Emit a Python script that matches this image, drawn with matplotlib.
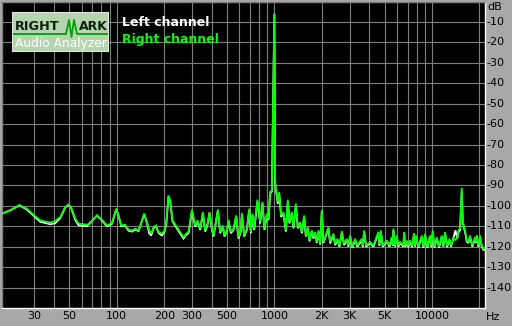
import matplotlib
matplotlib.use("Agg")
import matplotlib.pyplot as plt
import matplotlib.transforms as mtransforms
from matplotlib.patches import Rectangle

# ---------------- data ----------------
freq_hz = [
    18.7, 21.1, 24.1, 26.9, 30.0, 32.7, 37.9, 40.7, 43.8, 47.1,
    49.6, 51.2, 54.6, 57.3, 64.7, 67.9, 74.9, 80.6, 86.7, 93.2,
    99.3, 102.7, 106.8, 113, 118.8, 124.9, 131, 137.5, 144.5, 149.4,
    155.4, 160.7, 165.5, 171.1, 177.3, 184.1, 193.5, 201, 206, 213,
    218.4, 225.8, 240.8, 252.7, 265.2, 275.9, 285.3, 300, 314.8, 325.5,
    338.4, 352, 364.1, 376.5, 387.7, 401.5, 411, 438.2, 453.2, 471.4,
    482.6, 499.7, 511.5, 529.8, 550.3, 572.4, 591.9, 613, 622.2, 643.5,
    669.3, 692.2, 709.6, 726.3, 744.6, 781.3, 812.8, 840.5, 865.5, 896.5,
    917.8, 940.5, 964.1, 1000, 1012, 1026.6, 1052.4, 1072.5, 1104.3, 1142,
    1182.7, 1217.8, 1246.7, 1291, 1321.5, 1368.6, 1409.3, 1457.5, 1494.2, 1545.3,
    1584.2, 1631, 1669.7, 1729.3, 1770, 1814.6, 1860.3, 1904.2, 1952.1, 2000,
    2048, 2203, 2259, 2371, 2431, 2513, 2587, 2679, 2771, 2882,
    2951, 3025, 3128, 3253, 3365, 3588, 3640, 3710, 3821, 4050,
    4250, 4573, 4638, 4736, 4875, 5170, 5370, 5561, 5642, 5692,
    5834, 5981, 6122, 6276, 6586, 6655, 6782, 6923, 7086, 7263,
    7477, 7700, 7812, 7930, 8200, 8616, 8820, 9042, 9350, 9725,
    9913, 10117, 10356, 10725, 11092, 11537, 11813, 12108, 12466, 12894,
    13219, 13670, 14073, 14490, 14705, 15075, 15451, 15680, 15980, 16215,
    16625, 17015, 17443, 18040, 18765, 19040, 19237, 19690, 20186, 20694,
    21182, 21620,
]

right_db = [
    -103.8, -102.2, -99.6, -101.4, -104.7, -107.1, -108.2, -107.4, -105.5, -100.6,
    -99.3, -100.6, -106.3, -108.7, -109.2, -108.7, -104.6, -106.8, -109.6, -108.4,
    -101.4, -104.7, -109.6, -109.2, -111.7, -112.0, -111.2, -112.0, -107.1, -103.8,
    -108.0, -112.0, -113.6, -110.4, -109.6, -112.8, -113.6, -112.0, -108.7, -94.9,
    -97.3, -107.1, -110.4, -112.8, -115.3, -113.6, -112.8, -101.9, -109.6, -107.1,
    -111.2, -103.0, -112.0, -108.7, -103.3, -111.2, -114.5, -101.7, -112.8, -109.6,
    -114.5, -112.0, -106.8, -112.8, -111.2, -104.7, -115.3, -112.0, -103.5, -114.5,
    -111.2, -101.4, -112.8, -103.8, -111.2, -97.0, -108.0, -98.1, -111.2, -103.8,
    -106.3, -93.2, -92.4, -6.0, -88.3, -92.4, -98.1, -93.2, -104.7, -103.0,
    -112.0, -97.0, -108.0, -103.0, -110.4, -98.9, -110.4, -108.0, -112.8, -104.7,
    -114.5, -110.4, -116.9, -112.0, -115.3, -112.8, -117.7, -112.0, -118.5, -102.0,
    -117.7, -110.4, -117.7, -113.6, -118.5, -116.1, -119.4, -112.4, -118.5, -116.1,
    -119.4, -114.5, -120.0, -116.1, -119.4, -116.1, -119.4, -112.0, -119.4, -117.7,
    -119.4, -112.8, -119.0, -112.0, -119.4, -116.9, -119.4, -115.3, -119.0, -111.2,
    -119.4, -114.5, -119.4, -117.7, -119.4, -112.8, -119.4, -117.0, -119.6, -116.9,
    -119.6, -113.3, -119.4, -114.5, -120.0, -114.5, -120.0, -113.6, -120.0, -114.5,
    -119.6, -112.0, -120.0, -115.3, -120.0, -114.5, -119.5, -112.8, -119.6, -116.1,
    -119.4, -115.3, -116.9, -115.3, -112.0, -111.2, -91.1, -107.1, -110.4, -112.0,
    -116.9, -117.7, -114.5, -119.4, -115.3, -117.7, -114.5, -119.4, -114.5, -119.4,
    -121.0, -121.0,
]

left_db = [
    -103.8, -102.2, -99.8, -101.8, -105.2, -107.8, -109.0, -108.5, -106.0, -100.8,
    -99.5, -100.8, -107.0, -109.5, -110.0, -108.2, -104.8, -107.2, -110.0, -108.8,
    -101.6, -105.0, -110.0, -109.6, -112.2, -112.6, -111.6, -112.4, -107.4, -104.0,
    -108.4, -113.5, -114.5, -111.0, -110.0, -113.3, -114.5, -112.6, -109.0, -95.5,
    -97.8, -107.6, -111.0, -113.6, -116.0, -114.2, -113.4, -102.5, -110.2, -107.8,
    -111.8, -103.8, -112.6, -109.4, -103.3, -111.8, -115.0, -102.4, -113.4, -110.2,
    -115.0, -112.6, -107.6, -113.4, -111.8, -105.6, -116.0, -112.6, -104.2, -115.0,
    -111.8, -102.2, -113.4, -104.6, -111.8, -98.0, -108.6, -99.0, -111.8, -104.4,
    -107.0, -94.0, -93.0, -6.0, -89.0, -93.2, -99.0, -94.0, -105.4, -103.8,
    -112.6, -98.0, -108.6, -103.8, -111.0, -100.0, -111.0, -108.6, -113.4, -105.4,
    -115.0, -111.0, -117.4, -112.6, -116.0, -113.4, -118.2, -112.6, -119.0, -103.0,
    -118.2, -111.0, -118.4, -114.2, -119.2, -116.8, -120.0, -113.2, -119.2, -116.8,
    -120.0, -115.2, -120.5, -116.8, -120.0, -116.8, -120.0, -113.0, -120.0, -118.2,
    -120.0, -113.6, -119.6, -113.0, -120.0, -117.4, -120.0, -116.0, -119.6, -112.0,
    -120.0, -115.2, -120.0, -118.2, -120.0, -113.6, -120.0, -117.6, -120.2, -117.4,
    -120.2, -114.0, -120.0, -115.2, -120.5, -115.2, -120.5, -114.4, -120.5, -115.2,
    -120.2, -113.0, -120.5, -116.0, -120.5, -115.2, -120.0, -113.6, -120.2, -116.8,
    -120.0, -116.0, -112.0, -116.0, -113.0, -112.0, -93.0, -108.0, -111.0, -112.8,
    -117.4, -118.2, -115.2, -120.0, -116.0, -118.2, -115.2, -120.0, -115.2, -120.0,
    -121.5, -121.5,
]

x_tick_values = [30, 50, 100, 200, 300, 500, 1000, 2000, 3000, 5000, 10000]
x_tick_labels = ["30", "50", "100", "200", "300", "500", "1000", "2K", "3K", "5K", "10000"]
x_grid_values = [30, 40, 50, 60, 70, 80, 90, 100, 200, 300, 400, 500, 600, 700, 800, 900,
                 1000, 2000, 3000, 4000, 5000, 6000, 7000, 8000, 9000, 10000, 20000]
y_tick_values = [-10, -20, -30, -40, -50, -60, -70, -80, -90, -100, -110, -120, -130, -140]
series_names = ["Left channel", "Right channel"]

# ---------------- figure ----------------
W, H = 512, 326
BG = "#A8A8A8"
GRID = "#808080"
GREEN = "#00FF00"

fig = plt.figure(figsize=(W / 100, H / 100), dpi=100, facecolor=BG)
ax = fig.add_axes([2 / W, 1 - 308 / H, 483 / W, 306.5 / H])
ax.set_facecolor("black")
ax.set_xscale("log")
ax.set_xlim(18.7, 21700)
ax.set_ylim(-150, 0)
ax.set_xticks([])
ax.set_yticks([])
ax.set_xticks([], minor=True)
ax.set_yticks([], minor=True)
ax.tick_params(which="both", length=0, labelbottom=False, labelleft=False)

for f in x_grid_values:
    ax.axvline(f, color=GRID, lw=0.8, zorder=1)
for v in y_tick_values:
    ax.axhline(v, color=GRID, lw=0.8, zorder=1)

for side, col in (("top", GRID), ("left", GRID), ("bottom", "white"), ("right", "white")):
    ax.spines[side].set_color(col)
    ax.spines[side].set_linewidth(1.0)

ax.plot(freq_hz, left_db, color="white", lw=1.3, zorder=3, solid_joinstyle="miter")
ax.plot(freq_hz, right_db, color=GREEN, lw=1.3, zorder=4, solid_joinstyle="miter")

# tick labels
ytr = mtransforms.blended_transform_factory(fig.transFigure, ax.transData)
for v in y_tick_values:
    fig.text(486 / W, v, str(v), transform=ytr, ha="left", va="center",
             fontsize=8, color="black", family="DejaVu Sans")
fig.text(487 / W, 1 - 7 / H, "dB", ha="left", va="center", fontsize=8, color="black")

xtr = mtransforms.blended_transform_factory(ax.transData, fig.transFigure)
for f, lab in zip(x_tick_values, x_tick_labels):
    fig.text(f, 1 - 316 / H, lab, transform=xtr, ha="center", va="center",
             fontsize=8, color="black")
fig.text(486 / W, 1 - 317 / H, "Hz", ha="left", va="center", fontsize=8, color="black")

# legend texts
fig.text(122 / W, 1 - 23 / H, series_names[0], ha="left", va="center",
         fontsize=9, fontweight="bold", color="white")
fig.text(122 / W, 1 - 39 / H, series_names[1], ha="left", va="center",
         fontsize=9, fontweight="bold", color=GREEN)

# logo
lx0, ly0, lw_, lh_ = 12, 12, 97, 40
lax = fig.add_axes([lx0 / W, 1 - (ly0 + lh_) / H, lw_ / W, lh_ / H])
lax.set_xlim(0, lw_)
lax.set_ylim(lh_, 0)
lax.axis("off")
lax.add_patch(Rectangle((0, 0), lw_, lh_, facecolor="#B4D6AE", edgecolor="#E8F0E6", lw=1.2))
lax.plot([2, 54, 57, 59.5, 62, 65, 67, 95],
         [22, 22, 8, 25, 8, 22, 22, 22], color="#00A000", lw=1.3)
lax.text(3, 14.5, "RIGHT", ha="left", va="center", fontsize=9.3, fontweight="bold", color="#102010")
lax.text(95.5, 14.5, "ARK", ha="right", va="center", fontsize=9.0, fontweight="bold", color="#102010")
lax.text(49, 31.3, "Audio Analyzer", ha="center", va="center", fontsize=8.8, color="white")

fig.savefig("out.png", dpi=100, facecolor=BG)
